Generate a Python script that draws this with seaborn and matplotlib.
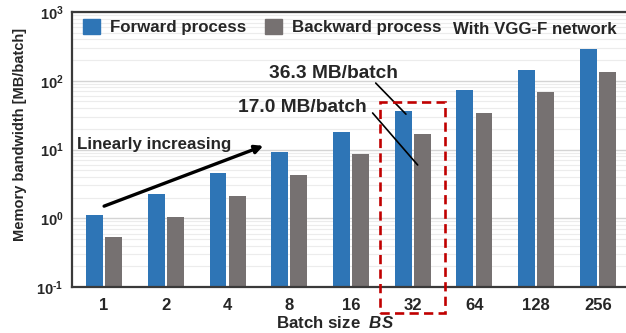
import matplotlib
matplotlib.use("Agg")
import matplotlib.pyplot as plt
import matplotlib.transforms as mtransforms
from matplotlib.patches import Rectangle
import numpy as np
import pandas as pd
import seaborn as sns

# Batch sizes and per-batch memory bandwidth (MB/batch)
batch_sizes = ["1", "2", "4", "8", "16", "32", "64", "128", "256"]
forward_mb = [1.13, 2.27, 4.54, 9.08, 18.2, 36.3, 72.6, 145.0, 290.0]
backward_mb = [0.53, 1.06, 2.13, 4.25, 8.5, 17.0, 34.0, 68.0, 136.0]
series_names = ["Forward process", "Backward process"]
series_colors = ["#2E75B6", "#767171"]
ytick_vals = [0.1, 1, 10, 100, 1000]
ytick_exps = ["\u20101", "0", "1", "2", "3"]

df = pd.DataFrame({
    "BS": batch_sizes * 2,
    "MB": forward_mb + backward_mb,
    "Process": [series_names[0]] * len(batch_sizes) + [series_names[1]] * len(batch_sizes),
})

sns.set_style("white")
plt.rcParams["font.family"] = ["Liberation Sans", "DejaVu Sans"]
plt.rcParams["font.weight"] = "bold"
plt.rcParams["mathtext.fontset"] = "custom"
plt.rcParams["mathtext.rm"] = "Liberation Sans:bold"
plt.rcParams["mathtext.bf"] = "Liberation Sans:bold"
plt.rcParams["mathtext.it"] = "Liberation Sans:bold:italic"

fig = plt.figure(figsize=(6.26, 3.33), dpi=100)
W, H = 626, 333
ax = fig.add_axes([72 / W, 46 / H, 558 / W, 275 / H])

sns.barplot(data=df, x="BS", y="MB", hue="Process", order=batch_sizes,
            hue_order=series_names, palette=series_colors, width=0.62, gap=0.12,
            saturation=1, ax=ax, legend=False, edgecolor="none")

ax.set_yscale("log")
ax.set_ylim(0.1, 1000)
ax.set_xlim(-0.52, 8.52)
ax.set_yticks(ytick_vals)
ax.set_yticklabels([r"$\mathdefault{10^{%s}}$" % e for e in ytick_exps], fontsize=10.5)
ax.tick_params(axis="y", which="both", length=0, pad=6)
ax.tick_params(axis="x", length=0, pad=8, labelsize=12)
for lab in ax.get_xticklabels():
    lab.set_fontweight("bold")

ax.set_axisbelow(True)
ax.grid(True, axis="y", which="major", color="#d4d4d4", lw=1.0)
ax.grid(True, axis="y", which="minor", color="#ececec", lw=0.8)
ax.grid(False, axis="x")

for side in ["left", "top", "bottom"]:
    ax.spines[side].set_color("#3a3a3a")
    ax.spines[side].set_linewidth(1.6)
ax.spines["right"].set_visible(False)

ax.set_xlabel("")
ax.set_ylabel("")
fig.text(20 / W, 1 - 134 / H, "Memory bandwidth [MB/batch]", rotation=90,
         ha="center", va="center", fontsize=10.5, fontweight="bold")
fig.text(335 / W, 1 - 323 / H, r"Batch size  $\mathit{BS}$", ha="center", va="center",
         fontsize=12.2, fontweight="bold")

# Legend with square swatches, plus network note
handles = [Rectangle((0, 0), 1, 1, color=c) for c in series_colors]
fig.legend(handles, series_names, loc="upper left", bbox_to_anchor=(83 / W, 1 - 19 / H),
           ncol=2, frameon=False, handlelength=1.0, handleheight=1.0,
           handletextpad=0.6, columnspacing=1.1, borderpad=0, borderaxespad=0,
           prop={"weight": "bold", "size": 12.2})
fig.text(535 / W, 1 - 29 / H, "With VGG-F network", ha="center", va="center",
         fontsize=12.2, fontweight="bold")

# Trend arrow
ax.annotate("", xy=(2.58, 11.3), xytext=(0.0, 1.5),
            arrowprops=dict(arrowstyle="-|>", color="black", lw=2.4,
                            mutation_scale=12, shrinkA=0, shrinkB=0))
ax.text(0.816, 10 ** ((218.25 - 145) / 68.75), "Linearly increasing", ha="center",
        va="center", fontsize=12.2, fontweight="bold")

# Highlighted batch size 32
fwd32, bwd32 = forward_mb[5], backward_mb[5]
ax.text(3.715, 10 ** ((218.25 - 73) / 68.75), f"{fwd32:.1f} MB/batch", ha="center",
        va="center", fontsize=13.8, fontweight="bold")
ax.text(3.213, 10 ** ((218.25 - 107) / 68.75), f"{bwd32:.1f} MB/batch", ha="center",
        va="center", fontsize=13.8, fontweight="bold")
ax.plot([4.40, 4.89], [92.7, fwd32 * 0.9], color="black", lw=1.2, clip_on=False)
ax.plot([4.35, 5.08], [34.0, 5.95], color="black", lw=1.2, clip_on=False)

trans = mtransforms.blended_transform_factory(ax.transData, ax.transAxes)
ax.add_patch(Rectangle((4.47, -0.094), 1.05, 0.768, transform=trans, fill=False,
                       edgecolor="#C00000", lw=1.9, linestyle=(0, (3.5, 2)),
                       clip_on=False, zorder=5))

fig.savefig("out.png", dpi=100)
